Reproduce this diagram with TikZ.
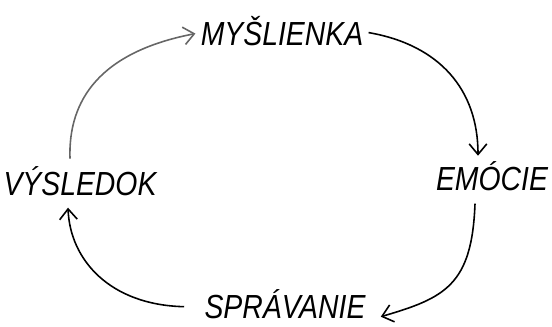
\documentclass[tikz,border=0pt]{standalone}
\usepackage{fontspec}
\setmainfont{Liberation Sans}
\usetikzlibrary{arrows.meta}
\begin{document}
\begin{tikzpicture}[x=0.02cm,y=-0.02cm,
  word/.style={anchor=base,inner sep=0.1cm,font=\fontsize{19}{22}\selectfont\itshape},
  arr/.style={line width=0.9pt,-{Straight Barb[length=6pt,width=10pt]}}]
\useasboundingbox (0,0) rectangle (552,326);
\node[word] (mys) at (282,45) {\scalebox{0.85}[1]{MYŠLIENKA}};
\node[word] (emo) at (492,190) {\scalebox{0.85}[1]{EMÓCIE}};
\node[word] (vys) at (80,195) {\scalebox{0.85}[1]{VÝSLEDOK}};
\node[word] (spr) at (285,318) {\scalebox{0.85}[1]{SPRÁVANIE}};
\draw[arr,black!60] ([xshift=-0.2cm,yshift=0.04cm]vys.north) .. controls (68,100) and (100,52) .. ([yshift=-0.06cm]mys.west);
\draw[arr] ([yshift=-0.04cm]mys.east) .. controls (440,45) and (478,90) .. ([xshift=-0.28cm]emo.north);
\draw[arr] ([xshift=-0.34cm,yshift=-0.16cm]emo.south) .. controls (472,285) and (445,298) .. ([xshift=0.2cm,yshift=-0.26cm]spr.east);
\draw[arr] ([xshift=-0.3cm,yshift=-0.06cm]spr.west) .. controls (110,305) and (70,260) .. ([xshift=-0.24cm,yshift=-0.14cm]vys.south);
\end{tikzpicture}
\end{document}
